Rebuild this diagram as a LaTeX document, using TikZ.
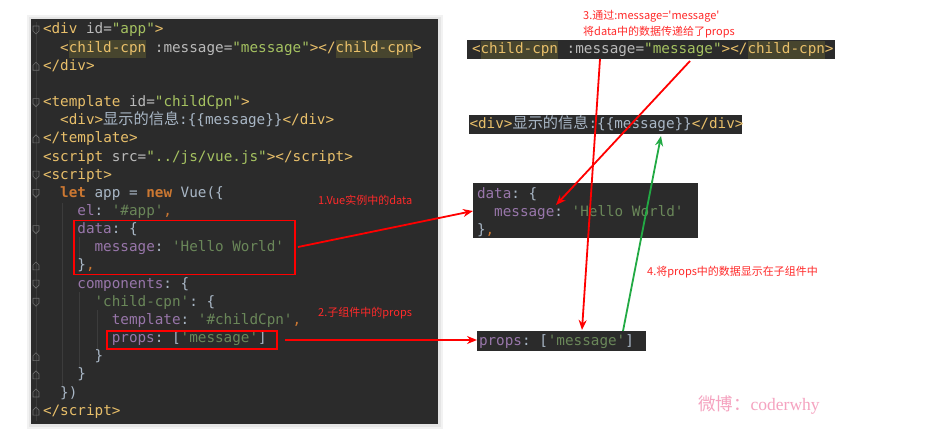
\documentclass[tikz,border=0pt]{standalone}
\usepackage{fontspec}
\setmonofont{DejaVu Sans Mono}
\newfontfamily\cjk{Noto Sans CJK SC}
\newfontfamily\wmserif{Liberation Serif}
\usetikzlibrary{arrows.meta}
\definecolor{codebg}{HTML}{2B2B2B}
\definecolor{tagc}{HTML}{E8BF6A}
\definecolor{attrc}{HTML}{BABABA}
\definecolor{svc}{HTML}{A5C261}
\definecolor{jsc}{HTML}{6A8759}
\definecolor{propc}{HTML}{9876AA}
\definecolor{kwc}{HTML}{CC7832}
\definecolor{punc}{HTML}{A9B7C6}
\definecolor{hlbg}{HTML}{47452E}
\definecolor{labred}{HTML}{FF2A2A}
\definecolor{arrred}{HTML}{FF0000}
\definecolor{arrgreen}{HTML}{22AA44}
\definecolor{wmpink}{HTML}{F5A3C0}
\definecolor{foldc}{HTML}{6E6E6E}
\definecolor{guidec}{HTML}{3C3C3C}
\newcommand\codefont{\ttfamily\fontsize{14.3}{18}\selectfont}
\newcommand\Tg[1]{\textcolor{tagc}{#1}}
\newcommand\At[1]{\textcolor{attrc}{#1}}
\newcommand\Sv[1]{\textcolor{svc}{#1}}
\newcommand\Js[1]{\textcolor{jsc}{#1}}
\newcommand\Pp[1]{\textcolor{propc}{#1}}
\newcommand\Kw[1]{\textcolor{kwc}{\bfseries #1}}
\newcommand\Pu[1]{\textcolor{punc}{#1}}
\newcommand\Hl[1]{{\setlength\fboxsep{0pt}\colorbox{hlbg}{\strut#1}}}
\newcommand\Zh[1]{{\cjk\fontsize{15.2}{18}\selectfont #1}}
\tikzset{
  code/.style={anchor=base west, inner sep=0pt, outer sep=0pt, font=\codefont},
  lab/.style={text=labred, font=\cjk\fontsize{11}{16}\selectfont, inner sep=0pt, anchor=west, align=left},
  redbox/.style={draw=arrred, line width=1.8pt, inner sep=0pt},
  panel/.style={fill=codebg, draw=none},
  redarrow/.style={draw=arrred, line width=1.8pt, -{Stealth[length=10pt,width=8pt]}},
  greenarrow/.style={draw=arrgreen, line width=1.8pt, -{Stealth[length=10pt,width=8pt]}},
  foldmark/.style={draw=foldc, line width=0.6pt},
  guide/.style={draw=guidec, line width=0.7pt}
}
\begin{document}
\begin{tikzpicture}[x=1pt, y=-1pt]
\useasboundingbox (0,0) rectangle (940,446);
\fill[white] (0,0) rectangle (940,446);
% left panel with faint shadow
\fill[black!5] (27,15) rectangle (443,429);
\fill[black!10] (29,17) rectangle (441,427);
\fill[codebg] (31,19) rectangle (438,424);
% gutter line and indent guides
\draw[guide] (36,22) -- (36,421);
\draw[guide] (62,203) -- (62,386);
\draw[guide] (79,237) -- (79,260);
\draw[guide] (79,292) -- (79,368);
\draw[guide] (97,310) -- (97,350);
% fold markers
\foreach \c in {30,102.6,175.2,193.35,229.65,284.1,302.25}{
  \draw[foldmark] (33,\c-4) -- (39,\c-4) -- (39,\c+1) -- (36,\c+4) -- (33,\c+1) -- cycle;
}
\foreach \c in {66.3,138.9,265.95,356.7,374.85,393,411.15}{
  \draw[foldmark] (33,\c+4) -- (39,\c+4) -- (39,\c-1) -- (36,\c-4) -- (33,\c-1) -- cycle;
}
% code lines
\node[code] (l1) at (43,34) {\Tg{<div} \At{id=}\Sv{"app"}\Tg{>}};
\node[code] (l2) at (60.2,52.15) {\Tg{<}\Hl{\Tg{child-cpn}} \At{:message=}\Sv{"message"}\Tg{></}\Hl{\Tg{child-cpn}}\Tg{>}};
\node[code] (l3) at (43,70.3) {\Tg{</div>}};
\node[code] (l5) at (43,106.6) {\Tg{<template} \At{id=}\Sv{"childCpn"}\Tg{>}};
\node[code] (l6) at (60.2,124.75) {\Tg{<div>}\Pu{\Zh{显示的信息}:\{\{message\}\}}\Tg{</div>}};
\node[code] (l7) at (43,142.9) {\Tg{</template>}};
\node[code] (l8) at (43,161.05) {\Tg{<script} \At{src=}\Sv{"../js/vue.js"}\Tg{></script>}};
\node[code] (l9) at (43,179.2) {\Tg{<script>}};
\node[code] (l10) at (60.2,197.35) {\Kw{let} \Pu{app = }\Kw{new} \Pu{Vue(\{}};
\node[code] (l11) at (77.4,215.5) {\Pp{el}\Pu{:} \Js{'\#app'}\textcolor{kwc}{,}};
\node[code] (l12) at (77.4,233.65) {\Pp{data}\Pu{: \{}};
\node[code] (l13) at (94.6,251.8) {\Pp{message}\Pu{:} \Js{'Hello World'}};
\node[code] (l14) at (77.4,269.95) {\Pu{\}}\textcolor{kwc}{,}};
\node[code] (l15) at (77.4,288.1) {\Pp{components}\Pu{: \{}};
\node[code] (l16) at (94.6,306.25) {\Js{'child-cpn'}\Pu{: \{}};
\node[code] (l17) at (111.8,324.4) {\Pp{template}\Pu{:} \Js{'\#childCpn'}\textcolor{kwc}{,}};
\node[code] (l18) at (111.8,342.55) {\Pp{props}\Pu{: [}\Js{'message'}\Pu{]}};
\node[code] (l19) at (94.6,360.7) {\Pu{\}}};
\node[code] (l20) at (77.4,378.85) {\Pu{\}}};
\node[code] (l21) at (60.2,397) {\Pu{\})}};
\node[code] (l22) at (43,415.15) {\Tg{</script>}};
% red boxes on left
\node[redbox, minimum width=221pt, minimum height=54pt] (dataRed) at (184.5,247.5) {};
\node[redbox, minimum width=170pt, minimum height=18pt] (propsRed) at (192,340) {};
% right-hand snippets
\node[panel, minimum width=368pt, minimum height=19pt, inner sep=0pt] (cpnBox) at (651,49.5) {};
\node[code] (r1) at (472,53.5) {\Tg{<}\Hl{\Tg{child-cpn}} \At{:message=}\Sv{"message"}\Tg{></}\Hl{\Tg{child-cpn}}\Tg{>}};
\node[panel, minimum width=273pt, minimum height=19pt, inner sep=0pt] (divBox) at (605.5,124.5) {};
\node[code] (r2) at (469.5,129) {\Tg{<div>}\Pu{\Zh{显示的信息}:\{\{message\}\}}\Tg{</div>}};
\node[panel, minimum width=225pt, minimum height=55pt, inner sep=0pt] (dataBox) at (585.5,210.5) {};
\node[code] (r3a) at (477,198.5) {\Pp{data}\Pu{: \{}};
\node[code] (r3b) at (494.2,216.5) {\Pp{message}\Pu{:} \Js{'Hello World'}};
\node[code] (r3c) at (477,234.5) {\Pu{\}}\textcolor{kwc}{,}};
\node[panel, minimum width=169pt, minimum height=20pt, inner sep=0pt] (propsBox) at (561.5,341) {};
\node[code] (r4) at (479,345.5) {\Pp{props}\Pu{: [}\Js{'message'}\Pu{]}};
% labels
\node[lab] (lab1) at (318,200) {1.Vue实例中的data};
\node[lab] (lab2) at (318,313) {2.子组件中的props};
\node[lab] (lab3) at (583,24) {3.通过:message='message'\\将data中的数据传递给了props};
\node[lab] (lab4) at (647,272) {4.将props中的数据显示在子组件中};
\node[anchor=west, inner sep=0pt, text=wmpink, font=\fontsize{17.5}{20}\selectfont] (wm) at (698,405) {{\cjk 微博：}{\wmserif coderwhy}};
% arrow endpoints
\coordinate (a1s) at (298,247);
\coordinate (a1e) at (473,211);
\coordinate (a2s) at (285,340);
\coordinate (a2e) at (477,340);
\coordinate (a3s) at (600,59);
\coordinate (a3e) at (582,330);
\coordinate (a4s) at (690,61);
\coordinate (a4e) at (556,205);
\coordinate (a5s) at (623,331);
\coordinate (a5e) at (661,136);
\draw[redarrow] (a1s) -- (a1e);
\draw[redarrow] (a2s) -- (a2e);
\draw[redarrow] (a3s) -- (a3e);
\draw[redarrow] (a4s) -- (a4e);
\draw[greenarrow] (a5s) -- (a5e);
\end{tikzpicture}
\end{document}
